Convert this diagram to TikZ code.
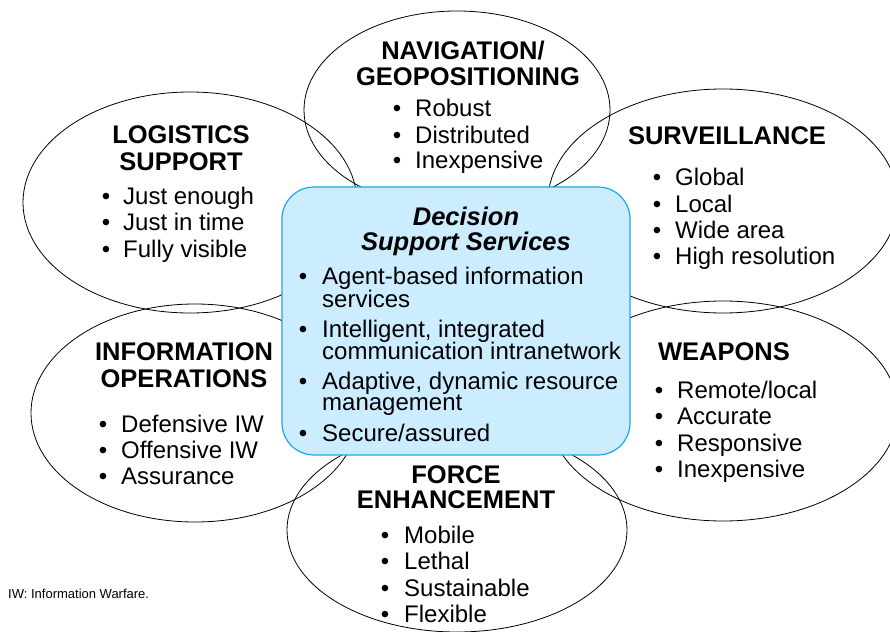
\documentclass[tikz,border=0pt]{standalone}
\usepackage{fontspec}
\setmainfont{Liberation Sans}
\usetikzlibrary{shapes.geometric}
\definecolor{boxfill}{RGB}{204,236,255}
\definecolor{boxline}{RGB}{30,168,230}
\tikzset{
 oval/.style={draw=black, ellipse, line width=0.8pt, inner sep=0pt},
 hub/.style={draw=boxline, fill=boxfill, line width=1.2pt, rounded corners=32pt, inner sep=0pt},
 headtxt/.style={font=\bfseries\fontsize{25.5}{27}\selectfont, anchor=base, inner sep=0pt},
 hubtitle/.style={font=\bfseries\itshape\fontsize{25.5}{27}\selectfont, anchor=base, inner sep=0pt},
 itemtxt/.style={font=\fontsize{24}{26}\selectfont, anchor=base west, inner sep=0pt},
 bulletmark/.style={font=\fontsize{24}{26}\selectfont, anchor=base, inner sep=0pt},
 note/.style={font=\fontsize{13}{15}\selectfont, anchor=base west, inner sep=0pt}
}
\begin{document}
\begin{tikzpicture}[x=1pt,y=-1pt]
\clip (0,0) rectangle (890,631);
% ellipses
\node[oval, minimum width=306pt, minimum height=198pt] (nav) at (457,110) {};
\node[oval, minimum width=334pt, minimum height=221pt] (log) at (190,202.5) {};
\node[oval, minimum width=350pt, minimum height=224pt] (sur) at (723,201) {};
\node[oval, minimum width=328pt, minimum height=218pt] (info) at (195,413) {};
\node[oval, minimum width=350pt, minimum height=220pt] (wpn) at (723,411) {};
\node[oval, minimum width=340pt, minimum height=204pt] (frc) at (457,530) {};
% central box
\node[hub, minimum width=348pt, minimum height=268pt] (dss) at (456,321) {};
% headings
\node[headtxt] (navh1) at (463,60) {NAVIGATION/};
\node[headtxt] (navh2) at (468,86) {GEOPOSITIONING};
\node[headtxt] (logh1) at (181,143) {LOGISTICS};
\node[headtxt] (logh2) at (181,170) {SUPPORT};
\node[headtxt] (surh1) at (727,145) {SURVEILLANCE};
\node[headtxt] (infh1) at (184,360) {INFORMATION};
\node[headtxt] (infh2) at (184,387) {OPERATIONS};
\node[headtxt] (wpnh1) at (724,360) {WEAPONS};
\node[headtxt] (frch1) at (456,483) {FORCE};
\node[headtxt] (frch2) at (456,508) {ENHANCEMENT};
\node[hubtitle] (dssh1) at (466,225) {Decision};
\node[hubtitle] (dssh2) at (466,250) {Support Services};
% lists
\foreach \yy/\txt [count=\i] in {117/Robust,143/Distributed,168/Inexpensive}{
 \node[bulletmark] (navb\i) at (397,\yy) {\textbullet};
 \node[itemtxt] (navt\i) at (415,\yy) {\txt};
}
\foreach \yy/\txt [count=\i] in {204/Just enough,230/Just in time,257/Fully visible}{
 \node[bulletmark] (logb\i) at (106,\yy) {\textbullet};
 \node[itemtxt] (logt\i) at (123,\yy) {\txt};
}
\foreach \yy/\txt [count=\i] in {185/Global,212/Local,238/Wide area,264/High resolution}{
 \node[bulletmark] (surb\i) at (657,\yy) {\textbullet};
 \node[itemtxt] (surt\i) at (675,\yy) {\txt};
}
\foreach \yy/\txt [count=\i] in {432/Defensive IW,458/Offensive IW,484/Assurance}{
 \node[bulletmark] (infb\i) at (103,\yy) {\textbullet};
 \node[itemtxt] (inft\i) at (121,\yy) {\txt};
}
\foreach \yy/\txt [count=\i] in {398/{Remote/local},424/Accurate,451/Responsive,477/Inexpensive}{
 \node[bulletmark] (wpnb\i) at (659,\yy) {\textbullet};
 \node[itemtxt] (wpnt\i) at (677,\yy) {\txt};
}
\foreach \yy/\txt [count=\i] in {543/Mobile,569/Lethal,596/Sustainable,622/Flexible}{
 \node[bulletmark] (frcb\i) at (385,\yy) {\textbullet};
 \node[itemtxt] (frct\i) at (404,\yy) {\txt};
}
% central list
\node[bulletmark] (dssb1) at (303,284) {\textbullet};
\node[bulletmark] (dssb2) at (303,337) {\textbullet};
\node[bulletmark] (dssb3) at (303,389) {\textbullet};
\node[bulletmark] (dssb4) at (303,441) {\textbullet};
\node[itemtxt] (dsst1) at (322,284) {Agent-based information};
\node[itemtxt] (dsst1b) at (322,307) {services};
\node[itemtxt] (dsst2) at (322,337) {Intelligent, integrated};
\node[itemtxt] (dsst2b) at (322,359) {communication intranetwork};
\node[itemtxt] (dsst3) at (322,389) {Adaptive, dynamic resource};
\node[itemtxt] (dsst3b) at (322,410) {management};
\node[itemtxt] (dsst4) at (322,441) {Secure/assured};
% footnote
\node[note] (fn) at (8,598) {IW: Information Warfare.};
\end{tikzpicture}
\end{document}
